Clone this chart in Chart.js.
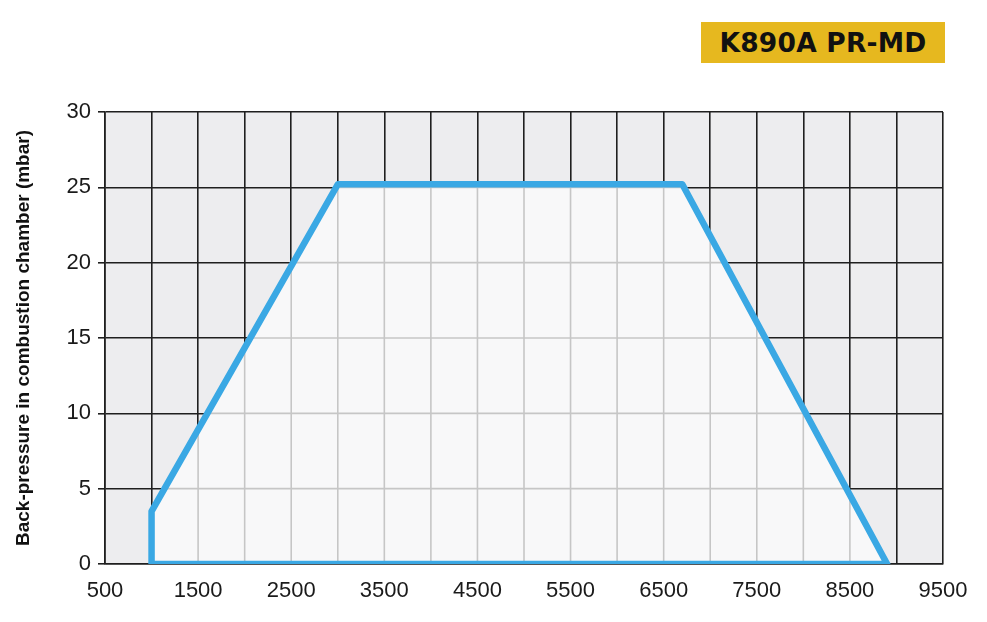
<!DOCTYPE html>
<html>
<head>
<meta charset="utf-8">
<script src="https://cdn.jsdelivr.net/npm/chart.js@4/dist/chart.umd.min.js"></script>
<style>
  body { margin: 0; background: #fff; }
  #wrap { position: relative; width: 987px; height: 622px; }
  #badge {
    position: absolute; left: 701px; top: 22px; width: 244px; height: 41px;
    background: #e6b81f; color: #111; font: bold 26.5px "DejaVu Sans", sans-serif;
    line-height: 42px; text-align: center; letter-spacing: 0.2px;
  }
</style>
</head>
<body>
<div id="wrap">
  <canvas id="chart" width="987" height="622"></canvas>
  <div id="badge">K890A PR-MD</div>
</div>
<script>
// Working field (x = output, y = back-pressure mbar)
const fieldX = [1000, 1000, 3000, 6700, 8900, 1000];
const fieldY = [0, 3.5, 25.2, 25.2, 0, 0];
const xTicks = [500, 1500, 2500, 3500, 4500, 5500, 6500, 7500, 8500, 9500];
const yTitle = 'Back-pressure in combustion chamber (mbar)';

const points = fieldX.map((x, i) => ({ x: x, y: fieldY[i] }));

// draws the light grid inside the working field
const innerGrid = {
    id: 'innerGrid',
    afterDatasetDraw(chart, args) {
        if (args.index !== 0) return;
        const ctx = chart.ctx;
        const meta = args.meta;
        const xs = chart.scales.x, ys = chart.scales.y;
        const area = chart.chartArea;
        ctx.save();
        ctx.beginPath();
        meta.data.forEach((p, i) => i ? ctx.lineTo(p.x, p.y) : ctx.moveTo(p.x, p.y));
        ctx.closePath();
        ctx.fillStyle = '#f8f8f9';
        ctx.fill();
        ctx.clip();
        ctx.strokeStyle = '#c6c6c6';
        ctx.lineWidth = 1.6;
        ctx.beginPath();
        for (let v = 500; v <= 9500; v += 500) {
            const px = xs.getPixelForValue(v);
            ctx.moveTo(px, area.top); ctx.lineTo(px, area.bottom);
        }
        for (let v = 0; v <= 30; v += 5) {
            const py = ys.getPixelForValue(v);
            ctx.moveTo(area.left, py); ctx.lineTo(area.right, py);
        }
        ctx.stroke();
        ctx.restore();
    }
};

const plotBg = {
    id: 'plotBg',
    beforeDraw(chart) {
        const a = chart.chartArea, ctx = chart.ctx;
        ctx.save();
        ctx.fillStyle = '#ededef';
        ctx.fillRect(a.left, a.top, a.right - a.left, a.bottom - a.top);
        ctx.restore();
    }
};

new Chart(document.getElementById('chart'), {
    type: 'scatter',
    data: {
        datasets: [{
            data: points,
            showLine: true,
            fill: 'shape',
            backgroundColor: '#f8f8f9',
            borderWidth: 0,
            pointRadius: 0,
            order: 2
        }, {
            data: points,
            showLine: true,
            fill: false,
            borderColor: '#3aa8e4',
            borderWidth: 6.5,
            borderJoinStyle: 'round',
            borderCapStyle: 'round',
            pointRadius: 0,
            order: 1
        }]
    },
    options: {
        responsive: false,
        animation: false,
        layout: { padding: { top: 112, right: 44, left: 12, bottom: 0 } },
        plugins: { legend: { display: false }, tooltip: { enabled: false } },
        scales: {
            x: {
                type: 'linear', min: 500, max: 9500,
                afterBuildTicks(scale) {
                    scale.ticks = [];
                    for (let v = 500; v <= 9500; v += 500) scale.ticks.push({ value: v });
                },
                afterFit(scale) { scale.height = 58; },
                ticks: {
                    color: '#1a1a1a', font: { family: '"Liberation Sans", Arial', size: 22 },
                    padding: 14, maxRotation: 0, autoSkip: false,
                    callback: (v) => xTicks.includes(v) ? String(v) : ''
                },
                grid: { color: '#1f1f1f', lineWidth: 1.6, drawTicks: false },
                border: { color: '#1f1f1f', width: 1.6 }
            },
            y: {
                min: 0, max: 30,
                afterFit(scale) { scale.width = 93; },
                ticks: {
                    stepSize: 5, color: '#1a1a1a', padding: 7,
                    font: { family: '"Liberation Sans", Arial', size: 22 }
                },
                grid: { color: '#1f1f1f', lineWidth: 1.6, tickLength: 7 },
                border: { color: '#1f1f1f', width: 1.6 },
                title: {
                    display: true, text: yTitle, color: '#111', padding: { top: 0, bottom: 5 },
                    font: { family: '"Liberation Sans", Arial', size: 19, weight: 'bold' }
                }
            }
        }
    },
    plugins: [plotBg, innerGrid]
});
</script>
</body>
</html>
